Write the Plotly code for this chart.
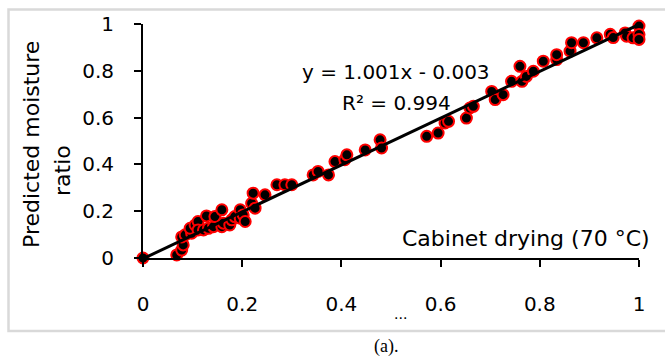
import plotly.graph_objects as go

observed_mr = [0.000, 0.068, 0.078, 0.081, 0.078, 0.085, 0.098, 0.095, 0.105, 0.111,
               0.111, 0.122, 0.128, 0.132, 0.142, 0.145, 0.159, 0.159, 0.162, 0.175,
               0.179, 0.185, 0.196, 0.196, 0.202, 0.206, 0.219, 0.226, 0.222, 0.246,
               0.270, 0.286, 0.300, 0.343, 0.353, 0.374, 0.387, 0.407, 0.411, 0.448,
               0.478, 0.481, 0.572, 0.595, 0.609, 0.616, 0.652, 0.659, 0.666, 0.703,
               0.710, 0.726, 0.743, 0.764, 0.760, 0.773, 0.787, 0.807, 0.834, 0.834,
               0.861, 0.864, 0.888, 0.915, 0.942, 0.948, 0.972, 0.975, 0.988, 1.000,
               1.000, 1.000]
predicted_mr = [0.000, 0.013, 0.034, 0.056, 0.090, 0.099, 0.106, 0.127, 0.141, 0.156,
                0.120, 0.120, 0.180, 0.127, 0.134, 0.177, 0.206, 0.134, 0.149, 0.141,
                0.163, 0.177, 0.170, 0.206, 0.184, 0.156, 0.234, 0.213, 0.277, 0.270,
                0.313, 0.313, 0.313, 0.355, 0.370, 0.355, 0.412, 0.420, 0.441, 0.462,
                0.505, 0.470, 0.520, 0.534, 0.577, 0.584, 0.598, 0.641, 0.648, 0.712,
                0.677, 0.698, 0.755, 0.755, 0.819, 0.776, 0.798, 0.841, 0.848, 0.869,
                0.884, 0.920, 0.920, 0.941, 0.956, 0.942, 0.962, 0.948, 0.941, 0.991,
                0.955, 0.934]

# Linear trendline endpoints (y = 1.001x - 0.003)
trend_x = [0.0, 1.0]
trend_y = [-0.003, 0.998]

tick_vals = [0, 0.2, 0.4, 0.6, 0.8, 1]
tick_text = ["0", "0.2", "0.4", "0.6", "0.8", "1"]

equation_text = "y = 1.001x - 0.003"
r2_text = "R² = 0.994"
series_label = "Cabinet drying (70 °C)"
y_title_line1 = "Predicted moisture"
y_title_line2 = "ratio"

FONT = "DejaVu Sans"
W, H = 665, 358
L, R, T, B = 143, 26, 24, 100
PW, PH = W - L - R, H - T - B


def px_to_paper(px, py):
    return (px - L) / PW, (H - B - py) / PH


fig = go.Figure()
fig.add_trace(go.Scatter(
    x=observed_mr, y=predicted_mr, mode="markers",
    marker=dict(size=11, color="black", line=dict(color="#ff0000", width=2)),
    cliponaxis=False, showlegend=False, hoverinfo="skip"))
fig.add_trace(go.Scatter(
    x=trend_x, y=trend_y, mode="lines",
    line=dict(color="black", width=3),
    cliponaxis=False, showlegend=False, hoverinfo="skip"))

axis_common = dict(
    range=[0, 1], showgrid=False, zeroline=False, showline=True,
    linecolor="black", linewidth=2, ticks="outside", ticklen=7,
    tickwidth=1.5, tickcolor="black", tickvals=tick_vals, ticktext=tick_text,
    tickfont=dict(family=FONT, size=20, color="black"), fixedrange=True)

fig.update_layout(
    width=W, height=H, margin=dict(l=L, r=R, t=T, b=B, autoexpand=False),
    paper_bgcolor="white", plot_bgcolor="white",
    xaxis=dict(**axis_common, ticklabelstandoff=20),
    yaxis=dict(**axis_common, ticklabelstandoff=16),
)

annots = []
def add_text(text, px, py, size, family=FONT, angle=0):
    x, y = px_to_paper(px, py)
    annots.append(dict(text=text, x=x, y=y, xref="paper", yref="paper",
                       showarrow=False, xanchor="center", yanchor="middle",
                       textangle=angle,
                       font=dict(family=family, size=size, color="black")))

add_text(equation_text, 396, 72, 20)
add_text(r2_text, 396, 103, 20)
add_text(series_label, 526, 238, 22)
add_text(y_title_line1, 31, 145, 22, angle=-90)
add_text(y_title_line2, 62, 171, 22, angle=-90)
add_text("...", 400, 313, 16, family="Liberation Sans")
add_text("(a).", 386, 346, 18, family="Liberation Serif")
fig.update_layout(annotations=annots)

x0, y0 = px_to_paper(8.5, 9.5)
x1, y1 = px_to_paper(680, 331)
fig.add_shape(type="rect", xref="paper", yref="paper", x0=x0, y0=y1, x1=x1, y1=y0,
              line=dict(color="#d9d9d9", width=2.5), fillcolor="rgba(0,0,0,0)",
              layer="below")

fig.write_html("out.html", config={"displayModeBar": False})
